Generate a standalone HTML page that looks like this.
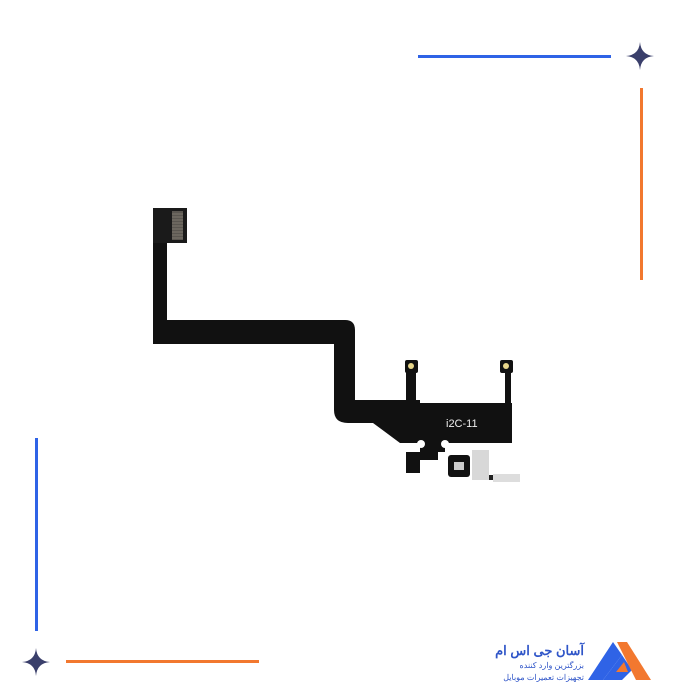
<!DOCTYPE html>
<html><head><meta charset="utf-8"><style>
body{margin:0;background:#fff;width:700px;height:700px;overflow:hidden;position:relative;font-family:"Liberation Sans",sans-serif}
.t{position:absolute;direction:rtl;text-align:right;font-family:"Liberation Sans","Noto Sans CJK SC",sans-serif;white-space:nowrap}
</style></head><body>
<svg width="700" height="700" style="position:absolute;left:0;top:0">
<line x1="418" y1="56.5" x2="611" y2="56.5" stroke="#2f63e6" stroke-width="3"/>
<path d="M640 42 Q641 55 654 56 Q641 57 640 70 Q639 57 626 56 Q639 55 640 42Z" fill="#3a3f6b"/>
<line x1="641.5" y1="88" x2="641.5" y2="280" stroke="#f2782f" stroke-width="3"/>
<line x1="36.5" y1="438" x2="36.5" y2="631" stroke="#2f63e6" stroke-width="3"/>
<path d="M36 648 Q37 661 50 662 Q37 663 36 676 Q35 663 22 662 Q35 661 36 648Z" fill="#3a3f6b"/>
<line x1="66" y1="661.5" x2="259" y2="661.5" stroke="#f2782f" stroke-width="3"/>
<g fill="#111">
<rect x="153" y="208" width="14" height="130"/>
<path d="M153 320 H345 Q355 320 355 330 V400 H420 V403 H512 V443 H445 V452 H420 V443 H400 L373 423 H348 Q334 423 334 410 V344 H153Z"/>
<rect x="406" y="368" width="10" height="36"/>
<rect x="505" y="368" width="6" height="36"/>
<rect x="405" y="360" width="13" height="13" rx="2"/>
<rect x="500" y="360" width="13" height="13" rx="2"/>
<rect x="406" y="452" width="14" height="21"/>
<rect x="420" y="452" width="18" height="8"/>
<rect x="448" y="455" width="22" height="22" rx="3"/>
</g>
<rect x="153" y="208" width="34" height="35" fill="#1a1a1a"/>
<rect x="172" y="211" width="11" height="29" fill="#5a5650"/>
<g stroke="#8a8478" stroke-width="0.8"><path d="M172 214h11M172 217h11M172 220h11M172 223h11M172 226h11M172 229h11M172 232h11M172 235h11M172 238h11"/></g>
<circle cx="411" cy="366" r="3" fill="#e8d68a"/><circle cx="506" cy="366" r="3" fill="#e8d68a"/>
<circle cx="421" cy="444" r="4" fill="#fff"/><circle cx="445" cy="444" r="4" fill="#fff"/>
<rect x="454" y="462" width="10" height="8" fill="#ccc"/>
<rect x="472" y="450" width="17" height="30" fill="#d8d8d8"/>
<rect x="489" y="475" width="4" height="5" fill="#222"/>
<rect x="493" y="474" width="27" height="8" fill="#ddd"/>
<text x="446" y="427" fill="#eee" font-size="11" font-family="Liberation Sans">i2C-11</text>
<path d="M588 680 L613 642 L622 655 L603 680Z" fill="#2f63e6"/>
<path d="M603 680 L622 655 L632 670 L622 680Z" fill="#2f63e6"/>
<path d="M617 642 L627 642 L651 680 L636 680Z" fill="#f2782f"/>
<path d="M616 672 L624 662 L628 672Z" fill="#f2782f"/>
</svg>
<div class="t" style="right:116px;top:643px;font-size:13px;font-weight:bold;color:#2f55c8">آسان جی اس ام</div>
<div class="t" style="right:116px;top:661px;font-size:8px;color:#2f55c8">بزرگترین وارد کننده</div>
<div class="t" style="right:116px;top:673px;font-size:8px;color:#2f55c8">تجهیزات تعمیرات موبایل</div>
</body></html>
